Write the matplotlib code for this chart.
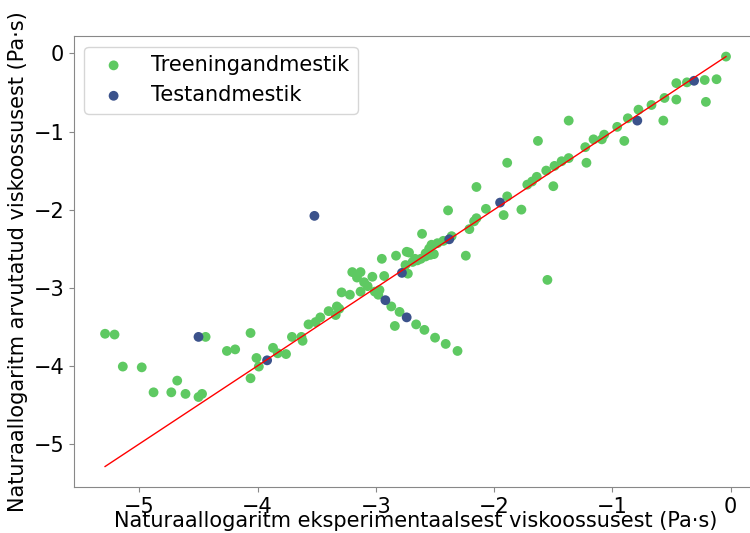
"""
Predicted vs experimental log-viscosity scatter (training / test split).
"""

import matplotlib
matplotlib.use("Agg")
import matplotlib.pyplot as plt
import numpy as np

# ---------------------------------------------------------------------------
# Data (ln of viscosity, Pa·s)
# ---------------------------------------------------------------------------
train_x = [
    -0.04, -0.12, -0.22, -0.37, -0.46, -0.21, -0.46, -0.56, -0.67, -0.78,
    -0.57, -0.87, -0.96, -1.07, -1.09, -1.16, -0.90, -1.23, -1.37, -1.22,
    -1.37, -1.43, -1.49, -1.56, -1.63, -1.50, -1.64, -1.68, -1.72, -1.89,
    -2.15, -1.89, -1.92, -1.77, -2.07, -2.15, -2.17, -2.39, -2.21, -2.36,
    -2.43, -2.61, -2.48, -2.53, -2.24, -1.55, -2.83, -2.74, -2.72, -2.95,
    -2.65, -2.58, -2.54, -2.51, -2.62, -2.55, -2.58, -2.67, -2.69, -2.75,
    -2.73, -2.93, -3.03, -3.20, -3.13, -3.16, -3.10, -3.07, -2.97, -3.01,
    -2.98, -3.13, -3.22, -3.29, -2.87, -2.80, -2.84, -2.66, -2.59, -2.50,
    -2.41, -2.31, -3.40, -3.33, -3.34, -3.31, -3.47, -3.51, -3.57, -3.63,
    -3.62, -3.71, -5.29, -5.21, -4.44, -4.06, -4.26, -4.19, -4.01, -3.99,
    -3.87, -3.83, -3.76, -5.14, -4.98, -4.68, -4.88, -4.73, -4.61, -4.50,
    -4.47, -4.06,
]
train_y = [
    -0.04, -0.33, -0.34, -0.37, -0.38, -0.62, -0.59, -0.57, -0.66, -0.72,
    -0.86, -0.83, -0.94, -1.04, -1.10, -1.10, -1.12, -1.20, -0.86, -1.40,
    -1.34, -1.38, -1.44, -1.50, -1.12, -1.70, -1.58, -1.64, -1.68, -1.40,
    -1.71, -1.83, -2.07, -2.00, -1.99, -2.11, -2.15, -2.01, -2.25, -2.34,
    -2.40, -2.31, -2.43, -2.45, -2.59, -2.90, -2.59, -2.54, -2.55, -2.63,
    -2.65, -2.60, -2.58, -2.57, -2.63, -2.50, -2.56, -2.63, -2.67, -2.71,
    -2.82, -2.85, -2.86, -2.80, -2.80, -2.87, -2.93, -2.98, -3.03, -3.05,
    -3.09, -3.05, -3.09, -3.06, -3.24, -3.31, -3.49, -3.47, -3.54, -3.64,
    -3.72, -3.81, -3.30, -3.24, -3.35, -3.27, -3.38, -3.44, -3.47, -3.63,
    -3.68, -3.63, -3.59, -3.60, -3.63, -3.58, -3.81, -3.79, -3.90, -4.01,
    -3.77, -3.84, -3.85, -4.01, -4.02, -4.19, -4.34, -4.34, -4.36, -4.40,
    -4.36, -4.16,
]

test_x = [-0.31, -0.79, -1.95, -2.38, -3.52, -2.78, -2.92, -2.74, -4.50, -3.92]
test_y = [-0.35, -0.86, -1.91, -2.38, -2.08, -2.81, -3.16, -3.38, -3.63, -3.93]

TRAIN_LABEL = "Treeningandmestik"
TEST_LABEL = "Testandmestik"
X_LABEL = "Naturaallogaritm eksperimentaalsest viskoossusest (Pa·s)"
Y_LABEL = "Naturaallogaritm arvutatud viskoossusest (Pa·s)"

# viridis picks
GREEN = "#5ec962"
BLUE = "#3b528b"


def main():
    plt.rcParams["font.family"] = ["DejaVu Sans"]
    plt.rcParams["font.size"] = 15

    fig = plt.figure(figsize=(7.5, 5.33), dpi=100)
    ax = fig.add_axes([0.0987, 0.0863, 0.9107, 0.846])

    ax.scatter(train_x, train_y, s=50, color=GREEN, label=TRAIN_LABEL,
               edgecolors="none")
    ax.scatter(test_x, test_y, s=50, color=BLUE, label=TEST_LABEL,
               edgecolors="none")

    # y = x reference line over the data range
    all_x = np.concatenate([train_x, test_x])
    lo, hi = all_x.min(), all_x.max()
    ax.plot([lo, hi], [lo, hi], color="red", linewidth=1)

    ax.set_xlabel(X_LABEL, fontsize=15, labelpad=-4)
    ax.set_ylabel(Y_LABEL, fontsize=15)
    ax.tick_params(labelsize=15, color="#888888")
    for sp in ax.spines.values():
        sp.set_color("#888888")

    ax.legend(loc="upper left", fontsize=15)

    fig.savefig("out.png", dpi=100)
    plt.close(fig)


if __name__ == "__main__":
    main()
